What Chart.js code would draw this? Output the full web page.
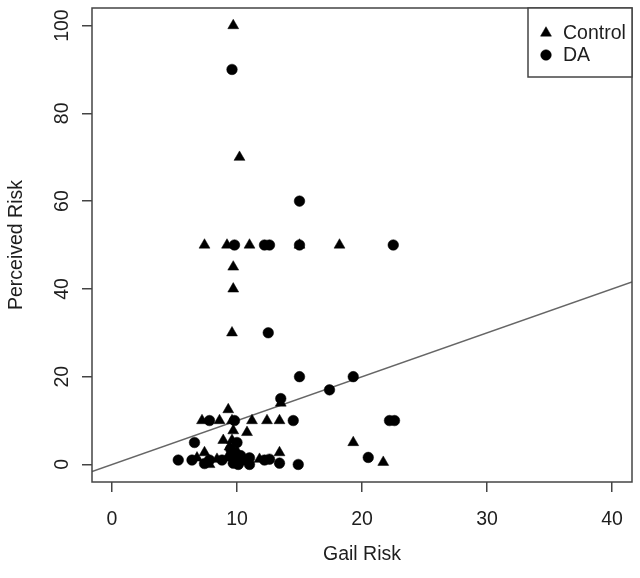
<!DOCTYPE html>
<html>
<head>
<meta charset="utf-8">
<script src="https://cdn.jsdelivr.net/npm/chart.js@4"></script>
<style>
  html, body { margin: 0; padding: 0; background: #fff; }
  canvas { display: block; }
</style>
</head>
<body>
<canvas id="c" width="640" height="578"></canvas>
<script>
// ---- data ----
const controlX = [9.7, 10.2, 7.4, 9.2, 11.0, 15.0, 18.2, 9.7, 9.7, 9.6, 13.5, 7.2, 8.6, 9.3, 9.6, 11.2, 12.4, 13.4, 9.7, 10.8, 8.9, 9.6, 9.4, 7.4, 13.4, 19.3, 21.7, 6.8, 8.4, 9.2, 11.8, 10.0, 7.8];
const controlY = [100, 70, 50, 50, 50, 50, 50, 45, 40, 30, 14, 10, 10, 12.5, 10, 10, 10, 10, 7.7, 7.3, 5.5, 5.5, 4, 2.7, 2.7, 5, 0.5, 1.5, 1.2, 1.5, 1.2, 3, 0];
const daX = [9.6, 15.0, 9.8, 12.2, 12.6, 15.0, 22.5, 12.5, 15.0, 19.3, 17.4, 13.5, 7.8, 9.8, 14.5, 22.2, 22.6, 6.6, 20.5, 5.3, 6.4, 7.4, 7.8, 8.8, 9.6, 9.7, 9.9, 10.1, 10.3, 10.5, 11.0, 11.0, 12.2, 12.6, 13.4, 14.9, 9.5, 10.0, 9.8];
const daY = [90, 60, 50, 50, 50, 50, 50, 30, 20, 20, 17, 15, 10, 10, 10, 10, 10, 5, 1.6, 1, 1, 0.2, 1, 1, 2, 0.3, 1, 0, 2, 1, 1.5, 0, 1, 1.2, 0.3, 0, 3.5, 5, 0.8];
const xTicks = [0, 10, 20, 30, 40];
const yTicks = [0, 20, 40, 60, 80, 100];
const xLimits = [-1.6, 41.6];
const yLimits = [-4, 104];
const lineIntercept = 0;
const lineSlope = 1;
const seriesNames = ['Control', 'DA'];
const xTitle = 'Gail Risk';
const yTitle = 'Perceived Risk';

// ---- styling ----
const FONT = '"Liberation Sans", Arial, sans-serif';
const FS = 19.5;
const TXT = '#1e1e1e';
const AX = '#444';

const toPts = (xs, ys) => xs.map((x, i) => ({ x: x, y: ys[i] }));
const linePts = xLimits.map(x => ({ x: x, y: lineIntercept + lineSlope * x }));

const decor = {
  id: 'decor',
  afterDraw(chart) {
    const ctx = chart.ctx;
    const a = chart.chartArea;
    const ys = chart.scales.y;
    ctx.save();
    // box
    ctx.strokeStyle = AX;
    ctx.lineWidth = 1.5;
    ctx.strokeRect(a.left, a.top, a.right - a.left, a.bottom - a.top);
    // y tick labels (rotated as in R)
    ctx.fillStyle = TXT;
    ctx.font = FS + 'px ' + FONT;
    ctx.textAlign = 'center';
    ctx.textBaseline = 'middle';
    yTicks.forEach(v => {
      const py = ys.getPixelForValue(v);
      ctx.save();
      ctx.translate(a.left - 29, py);
      ctx.rotate(-Math.PI / 2);
      ctx.fillText(String(v), 0, 0);
      ctx.restore();
    });
    // axis titles
    ctx.fillText(xTitle, (a.left + a.right) / 2, 555);
    ctx.save();
    ctx.translate(17, (a.top + a.bottom) / 2);
    ctx.rotate(-Math.PI / 2);
    ctx.fillText(yTitle, 0, 0);
    ctx.restore();
    // legend
    const lw = 104, lh = 69;
    const lx = a.right - lw, ly = a.top;
    ctx.fillStyle = '#fff';
    ctx.fillRect(lx, ly, lw, lh);
    ctx.strokeStyle = AX;
    ctx.lineWidth = 1.5;
    ctx.strokeRect(lx, ly, lw, lh);
    const styles = ['triangle', 'circle'];
    const radii = [6.3, 5.3];
    seriesNames.forEach((name, i) => {
      const cy = ly + 25 + i * 22;
      ctx.fillStyle = '#000';
      ctx.strokeStyle = '#000';
      ctx.lineWidth = 0.5;
      Chart.helpers.drawPoint(ctx, { pointStyle: styles[i], radius: radii[i], borderWidth: 0.5 }, lx + 18, cy);
      ctx.fillStyle = TXT;
      ctx.textAlign = 'left';
      ctx.fillText(name, lx + 35, cy + 1);
    });
    ctx.restore();
  }
};

new Chart(document.getElementById('c'), {
  type: 'scatter',
  data: {
    datasets: [
      {
        label: 'fit',
        data: linePts,
        showLine: true,
        borderColor: '#666',
        borderWidth: 1.5,
        pointRadius: 0,
        order: 3
      },
      {
        label: seriesNames[0],
        data: toPts(controlX, controlY),
        pointStyle: 'triangle',
        pointRadius: 6.3,
        backgroundColor: '#000',
        borderColor: '#000',
        borderWidth: 0.5,
        order: 1
      },
      {
        label: seriesNames[1],
        data: toPts(daX, daY),
        pointStyle: 'circle',
        pointRadius: 5.3,
        backgroundColor: '#000',
        borderColor: '#000',
        borderWidth: 0.5,
        order: 1
      }
    ]
  },
  options: {
    responsive: false,
    animation: false,
    events: [],
    layout: { padding: { top: 8, right: 8, left: 0, bottom: 0 } },
    plugins: { legend: { display: false }, tooltip: { enabled: false } },
    scales: {
      x: {
        type: 'linear',
        min: xLimits[0],
        max: xLimits[1],
        afterBuildTicks: s => { s.ticks = xTicks.map(v => ({ value: v })); },
        afterFit: s => { s.height = 96; },
        border: { display: false },
        grid: { drawOnChartArea: false, drawTicks: true, tickLength: 10, color: AX, lineWidth: 1.5 },
        ticks: { font: { family: FONT, size: FS }, color: TXT, padding: 16, maxRotation: 0, autoSkip: false }
      },
      y: {
        type: 'linear',
        min: yLimits[0],
        max: yLimits[1],
        afterBuildTicks: s => { s.ticks = yTicks.map(v => ({ value: v })); },
        afterFit: s => { s.width = 92; },
        border: { display: false },
        grid: { drawOnChartArea: false, drawTicks: true, tickLength: 10, color: AX, lineWidth: 1.5 },
        ticks: { font: { family: FONT, size: 1 }, color: 'rgba(0,0,0,0)', autoSkip: false }
      }
    }
  },
  plugins: [decor]
});
</script>
</body>
</html>
